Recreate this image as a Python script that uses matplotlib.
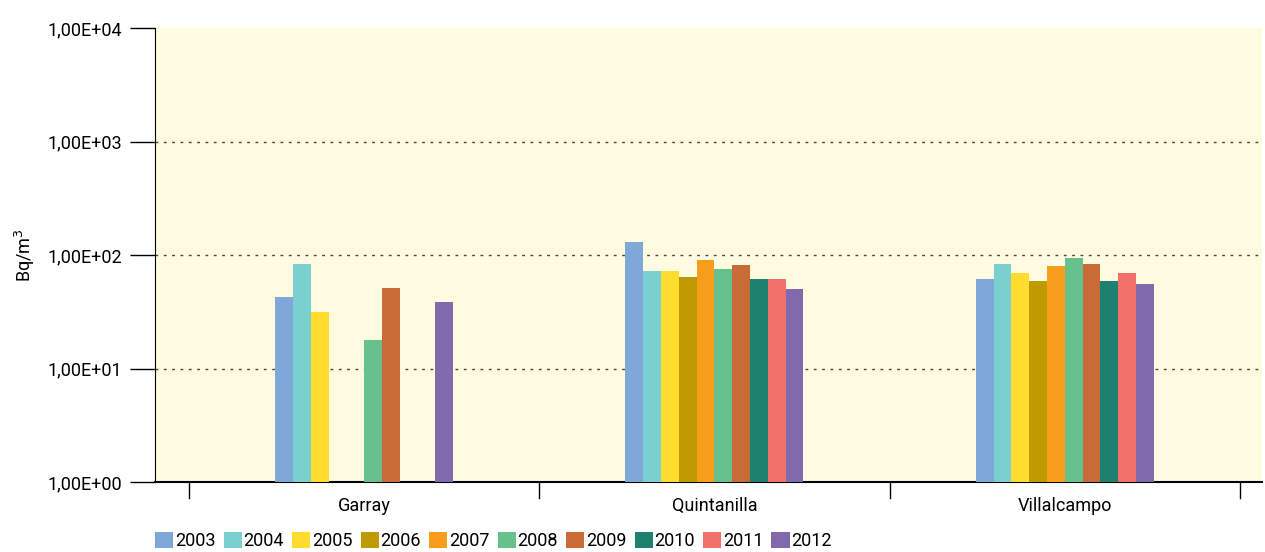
import numpy as np
import matplotlib
matplotlib.use("Agg")
import matplotlib.pyplot as plt
from matplotlib.patches import Patch

plt.rcParams['font.family'] = ['Roboto', 'DejaVu Sans']

categories = ["Garray", "Quintanilla", "Villalcampo"]
years = ["2003", "2004", "2005", "2006", "2007", "2008", "2009", "2010", "2011", "2012"]
nan = np.nan
values = {
    "2003": [42.7, 130.6, 61.5],
    "2004": [83.4, 72.4, 83.4],
    "2005": [31.5, 72.4, 69.5],
    "2006": [nan, 64.1, 59.0],
    "2007": [nan, 90.5, 80.1],
    "2008": [17.8, 75.3, 94.3],
    "2009": [51.5, 82.3, 83.4],
    "2010": [nan, 61.5, 59.0],
    "2011": [nan, 61.5, 69.5],
    "2012": [38.3, 50.6, 55.2],
}
colors = ["#7FA7D7", "#7ACFCF", "#FFDC2D", "#BF9A00", "#F99E1C",
          "#66C18C", "#C96B37", "#1E806E", "#F0716A", "#8169AD"]
ytick_vals = [1, 10, 100, 1000, 10000]
ytick_labels = ["1,00E+00", "1,00E+01", "1,00E+02", "1,00E+03", "1,00E+04"]

fig = plt.figure(figsize=(12.65, 5.52), dpi=100)
ax = fig.add_axes([155/1265, 1 - 482/552, (1262-155)/1265, (482-28)/552])
ax.set_facecolor("#FFFBE0")

x = np.arange(len(categories))
w = 0.0508
n = len(years)
for i, yr in enumerate(years):
    off = (i - (n - 1) / 2) * w
    ax.bar(x + off, values[yr], width=w, color=colors[i], bottom=0, zorder=3)

ax.set_yscale("log")
ax.set_ylim(1, 10000)
ax.set_xlim(-0.597, 2.563)
ax.set_yticks(ytick_vals)
ax.set_yticklabels(ytick_labels, fontsize=13)
ax.yaxis.set_minor_locator(matplotlib.ticker.NullLocator())
ax.tick_params(axis='y', direction='out', length=18, width=1, pad=6)

ax.set_xticks(x)
ax.set_xticklabels(categories, fontsize=13)
ax.tick_params(axis='x', length=0, pad=11)
for b in [-0.5, 0.5, 1.5, 2.5]:
    ax.plot([b, b], [0, -0.035], transform=ax.get_xaxis_transform(), color="black", lw=1, clip_on=False)

for v in [10, 100, 1000]:
    ax.axhline(v, color="#444444", lw=1, ls=(0, (2, 4)), zorder=2)

for s in ["top", "right"]:
    ax.spines[s].set_visible(False)
ax.spines["left"].set_color("black")
ax.spines["bottom"].set_color("black")
ax.spines["bottom"].set_linewidth(1.5)

fig.text(25/1265, 1 - 255/552, "Bq/m$^3$", rotation=90, ha="center", va="center", fontsize=13)

handles = [Patch(facecolor=c) for c in colors]
fig.legend(handles, years, loc="center left", bbox_to_anchor=(148/1265, 1 - 541/552), ncol=10,
           frameon=False, fontsize=13, handlelength=1.0, handleheight=1.0,
           handletextpad=0.1, columnspacing=0.45, borderaxespad=0.0)

fig.savefig("out.png", dpi=100)
